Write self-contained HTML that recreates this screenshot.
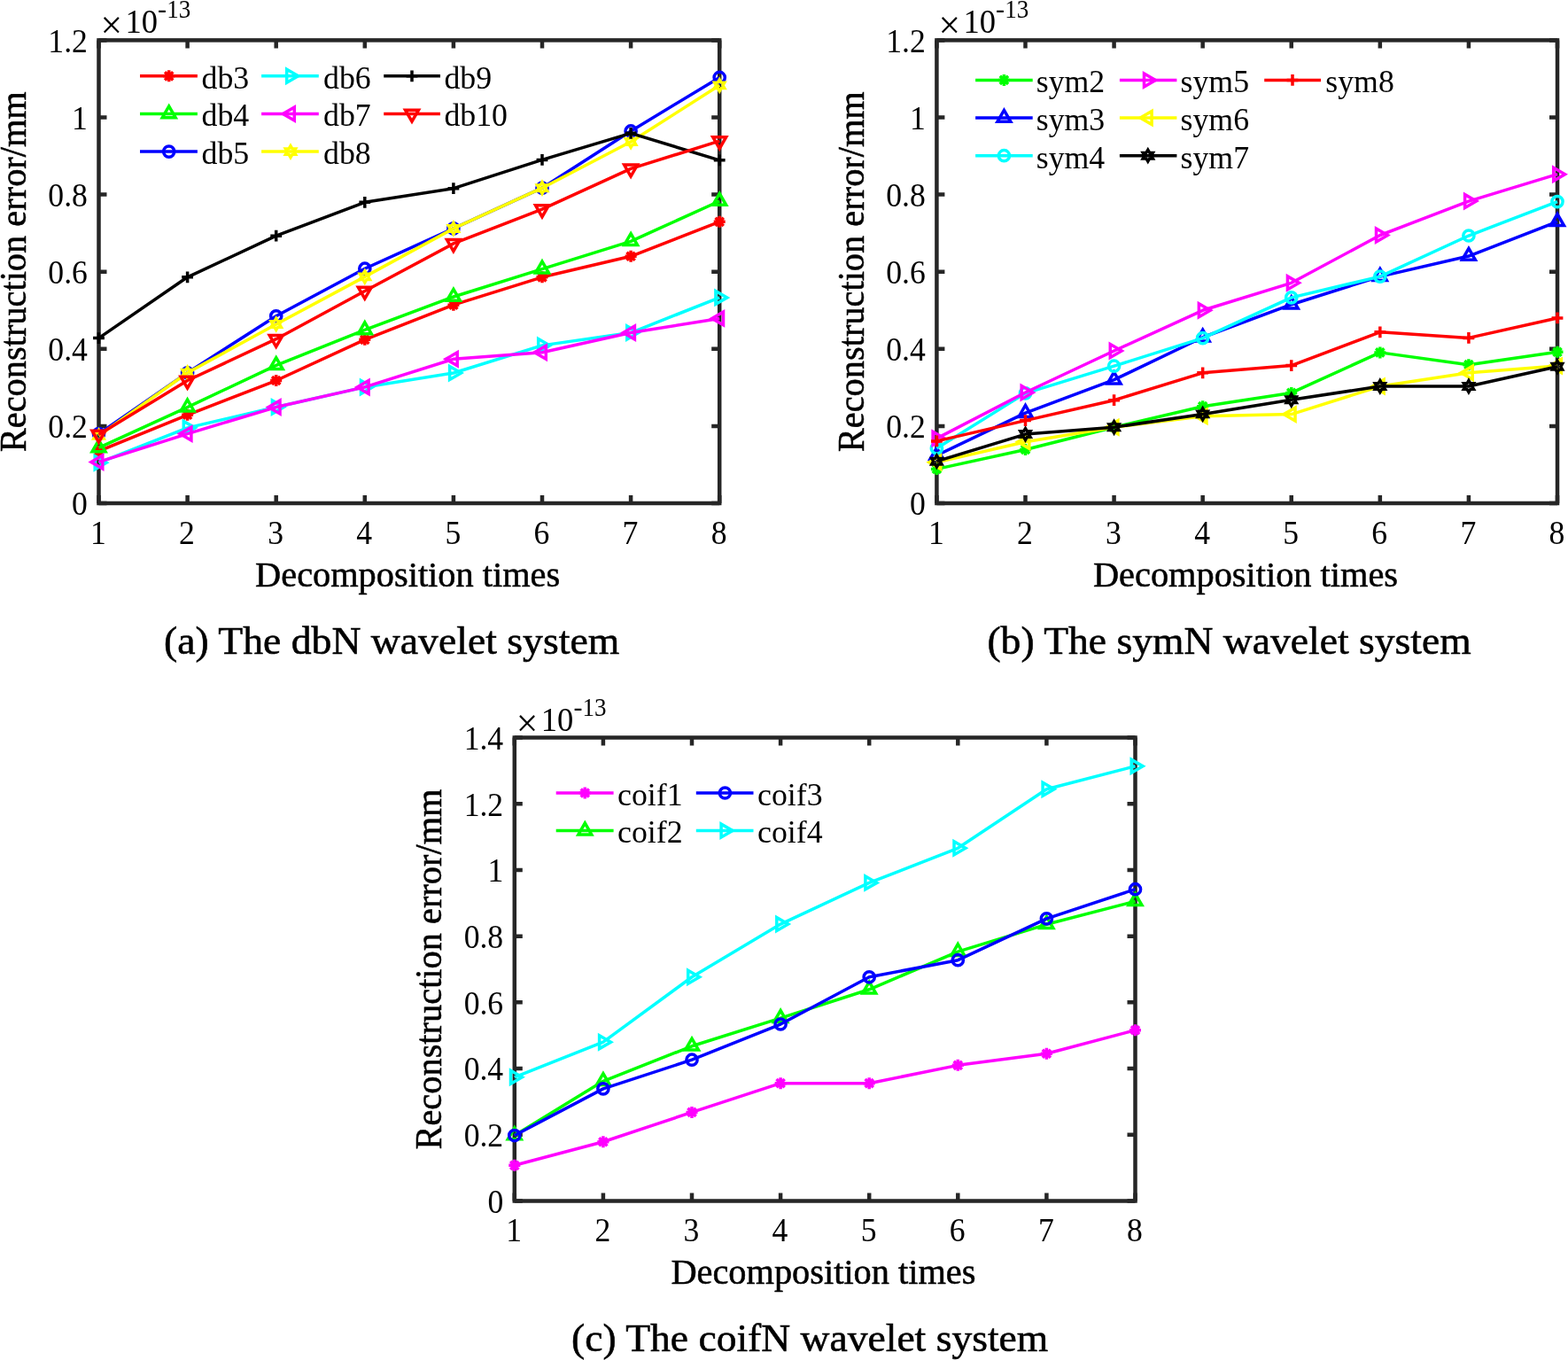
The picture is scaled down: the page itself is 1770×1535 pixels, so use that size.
<!DOCTYPE html>
<html><head><meta charset="utf-8"><title>Reconstruction error vs decomposition times</title>
<style>html,body{margin:0;padding:0;background:#fff;}body{width:1770px;height:1535px;overflow:hidden;}svg{display:block;}text{font-family:"Liberation Serif", "Times New Roman", serif;fill:#000;}</style>
</head><body>
<svg width="1770" height="1535" viewBox="0 0 1770 1535">
<rect width="1770" height="1535" fill="#fff"/>
<path d="M111.50 568.00V559.00M111.50 45.40V54.40M211.60 568.00V559.00M211.60 45.40V54.40M311.70 568.00V559.00M311.70 45.40V54.40M411.80 568.00V559.00M411.80 45.40V54.40M511.90 568.00V559.00M511.90 45.40V54.40M612.00 568.00V559.00M612.00 45.40V54.40M712.10 568.00V559.00M712.10 45.40V54.40M812.20 568.00V559.00M812.20 45.40V54.40M111.50 568.00H120.50M812.20 568.00H803.20M111.50 480.90H120.50M812.20 480.90H803.20M111.50 393.80H120.50M812.20 393.80H803.20M111.50 306.70H120.50M812.20 306.70H803.20M111.50 219.60H120.50M812.20 219.60H803.20M111.50 132.50H120.50M812.20 132.50H803.20M111.50 45.40H120.50M812.20 45.40H803.20" stroke="#262626" stroke-width="4.5" fill="none"/>
<rect x="111.50" y="45.40" width="700.70" height="522.60" fill="none" stroke="#262626" stroke-width="4.5"/>
<text x="110.90" y="613.90" font-size="37.5" text-anchor="middle" textLength="17.81" lengthAdjust="spacingAndGlyphs">1</text>
<text x="211.00" y="613.90" font-size="37.5" text-anchor="middle" textLength="17.81" lengthAdjust="spacingAndGlyphs">2</text>
<text x="311.10" y="613.90" font-size="37.5" text-anchor="middle" textLength="17.81" lengthAdjust="spacingAndGlyphs">3</text>
<text x="411.20" y="613.90" font-size="37.5" text-anchor="middle" textLength="17.81" lengthAdjust="spacingAndGlyphs">4</text>
<text x="511.30" y="613.90" font-size="37.5" text-anchor="middle" textLength="17.81" lengthAdjust="spacingAndGlyphs">5</text>
<text x="611.40" y="613.90" font-size="37.5" text-anchor="middle" textLength="17.81" lengthAdjust="spacingAndGlyphs">6</text>
<text x="711.50" y="613.90" font-size="37.5" text-anchor="middle" textLength="17.81" lengthAdjust="spacingAndGlyphs">7</text>
<text x="811.60" y="613.90" font-size="37.5" text-anchor="middle" textLength="17.81" lengthAdjust="spacingAndGlyphs">8</text>
<text x="98.90" y="581.40" font-size="37.5" text-anchor="end" textLength="17.81" lengthAdjust="spacingAndGlyphs">0</text>
<text x="98.90" y="494.30" font-size="37.5" text-anchor="end" textLength="44.53" lengthAdjust="spacingAndGlyphs">0.2</text>
<text x="98.90" y="407.20" font-size="37.5" text-anchor="end" textLength="44.53" lengthAdjust="spacingAndGlyphs">0.4</text>
<text x="98.90" y="320.10" font-size="37.5" text-anchor="end" textLength="44.53" lengthAdjust="spacingAndGlyphs">0.6</text>
<text x="98.90" y="233.00" font-size="37.5" text-anchor="end" textLength="44.53" lengthAdjust="spacingAndGlyphs">0.8</text>
<text x="98.90" y="145.90" font-size="37.5" text-anchor="end" textLength="17.81" lengthAdjust="spacingAndGlyphs">1</text>
<text x="98.90" y="58.80" font-size="37.5" text-anchor="end" textLength="44.53" lengthAdjust="spacingAndGlyphs">1.2</text>
<text x="113.49" y="43.14" font-size="43.5" text-anchor="start">×</text>
<text x="141.51" y="37.10" font-size="37.5" text-anchor="start" textLength="36.56" lengthAdjust="spacingAndGlyphs">10</text>
<text x="178.10" y="20.30" font-size="30" text-anchor="start">-</text>
<text x="188.27" y="19.80" font-size="30" text-anchor="start" textLength="27.00" lengthAdjust="spacingAndGlyphs">13</text>
<text x="460.15" y="661.80" font-size="41" text-anchor="middle" textLength="344.09" lengthAdjust="spacingAndGlyphs" stroke="#000" stroke-width="0.55">Decomposition times</text>
<g transform="translate(28.80,306.70) rotate(-90)"><text x="0.00" y="0.00" font-size="41.3" text-anchor="middle" textLength="406.94" lengthAdjust="spacingAndGlyphs" stroke="#000" stroke-width="0.55">Reconstruction error/mm</text></g>
<polyline points="111.50,509.21 211.60,468.27 311.70,429.51 411.80,383.35 511.90,344.15 612.00,312.80 712.10,289.28 812.20,250.30" fill="none" stroke="#ff0000" stroke-width="3.5" stroke-linejoin="round"/>
<path d="M105.00 509.21H118.00M111.50 502.71V515.71M106.90 504.61L116.10 513.80M106.90 513.80L116.10 504.61" stroke="#ff0000" stroke-width="3.5" fill="none"/>
<path d="M205.10 468.27H218.10M211.60 461.77V474.77M207.00 463.67L216.20 472.87M207.00 472.87L216.20 463.67" stroke="#ff0000" stroke-width="3.5" fill="none"/>
<path d="M305.20 429.51H318.20M311.70 423.01V436.01M307.10 424.91L316.30 434.11M307.10 434.11L316.30 424.91" stroke="#ff0000" stroke-width="3.5" fill="none"/>
<path d="M405.30 383.35H418.30M411.80 376.85V389.85M407.20 378.75L416.40 387.94M407.20 387.94L416.40 378.75" stroke="#ff0000" stroke-width="3.5" fill="none"/>
<path d="M505.40 344.15H518.40M511.90 337.65V350.65M507.30 339.56L516.50 348.75M507.30 348.75L516.50 339.56" stroke="#ff0000" stroke-width="3.5" fill="none"/>
<path d="M605.50 312.80H618.50M612.00 306.30V319.30M607.40 308.20L616.60 317.39M607.40 317.39L616.60 308.20" stroke="#ff0000" stroke-width="3.5" fill="none"/>
<path d="M705.60 289.28H718.60M712.10 282.78V295.78M707.50 284.68L716.70 293.88M707.50 293.88L716.70 284.68" stroke="#ff0000" stroke-width="3.5" fill="none"/>
<path d="M805.70 250.30H818.70M812.20 243.80V256.80M807.60 245.71L816.80 254.90M807.60 254.90L816.80 245.71" stroke="#ff0000" stroke-width="3.5" fill="none"/>
<polyline points="111.50,505.42 211.60,459.69 311.70,412.31 411.80,372.46 511.90,335.01 612.00,303.65 712.10,272.30 812.20,227.00" fill="none" stroke="#00ff00" stroke-width="3.5" stroke-linejoin="round"/>
<polygon points="111.50,496.82 118.95,509.72 104.05,509.72" fill="none" stroke="#00ff00" stroke-width="3.5" stroke-linejoin="miter"/>
<polygon points="211.60,451.09 219.05,463.99 204.15,463.99" fill="none" stroke="#00ff00" stroke-width="3.5" stroke-linejoin="miter"/>
<polygon points="311.70,403.71 319.15,416.61 304.25,416.61" fill="none" stroke="#00ff00" stroke-width="3.5" stroke-linejoin="miter"/>
<polygon points="411.80,363.86 419.25,376.76 404.35,376.76" fill="none" stroke="#00ff00" stroke-width="3.5" stroke-linejoin="miter"/>
<polygon points="511.90,326.41 519.35,339.31 504.45,339.31" fill="none" stroke="#00ff00" stroke-width="3.5" stroke-linejoin="miter"/>
<polygon points="612.00,295.05 619.45,307.95 604.55,307.95" fill="none" stroke="#00ff00" stroke-width="3.5" stroke-linejoin="miter"/>
<polygon points="712.10,263.70 719.55,276.60 704.65,276.60" fill="none" stroke="#00ff00" stroke-width="3.5" stroke-linejoin="miter"/>
<polygon points="812.20,218.40 819.65,231.30 804.75,231.30" fill="none" stroke="#00ff00" stroke-width="3.5" stroke-linejoin="miter"/>
<polyline points="111.50,489.61 211.60,420.80 311.70,356.78 411.80,303.22 511.90,257.92 612.00,212.20 712.10,147.96 812.20,87.43" fill="none" stroke="#0000ff" stroke-width="3.5" stroke-linejoin="round"/>
<circle cx="111.50" cy="489.61" r="6.1" fill="none" stroke="#0000ff" stroke-width="3.5"/>
<circle cx="211.60" cy="420.80" r="6.1" fill="none" stroke="#0000ff" stroke-width="3.5"/>
<circle cx="311.70" cy="356.78" r="6.1" fill="none" stroke="#0000ff" stroke-width="3.5"/>
<circle cx="411.80" cy="303.22" r="6.1" fill="none" stroke="#0000ff" stroke-width="3.5"/>
<circle cx="511.90" cy="257.92" r="6.1" fill="none" stroke="#0000ff" stroke-width="3.5"/>
<circle cx="612.00" cy="212.20" r="6.1" fill="none" stroke="#0000ff" stroke-width="3.5"/>
<circle cx="712.10" cy="147.96" r="6.1" fill="none" stroke="#0000ff" stroke-width="3.5"/>
<circle cx="812.20" cy="87.43" r="6.1" fill="none" stroke="#0000ff" stroke-width="3.5"/>
<polyline points="111.50,522.27 211.60,482.86 311.70,459.56 411.80,436.91 511.90,421.02 612.00,389.88 712.10,375.51 812.20,335.88" fill="none" stroke="#00ffff" stroke-width="3.5" stroke-linejoin="round"/>
<polygon points="120.10,522.27 107.20,529.72 107.20,514.82" fill="none" stroke="#00ffff" stroke-width="3.5" stroke-linejoin="miter"/>
<polygon points="220.20,482.86 207.30,490.31 207.30,475.41" fill="none" stroke="#00ffff" stroke-width="3.5" stroke-linejoin="miter"/>
<polygon points="320.30,459.56 307.40,467.01 307.40,452.11" fill="none" stroke="#00ffff" stroke-width="3.5" stroke-linejoin="miter"/>
<polygon points="420.40,436.91 407.50,444.36 407.50,429.47" fill="none" stroke="#00ffff" stroke-width="3.5" stroke-linejoin="miter"/>
<polygon points="520.50,421.02 507.60,428.47 507.60,413.57" fill="none" stroke="#00ffff" stroke-width="3.5" stroke-linejoin="miter"/>
<polygon points="620.60,389.88 607.70,397.33 607.70,382.43" fill="none" stroke="#00ffff" stroke-width="3.5" stroke-linejoin="miter"/>
<polygon points="720.70,375.51 707.80,382.96 707.80,368.06" fill="none" stroke="#00ffff" stroke-width="3.5" stroke-linejoin="miter"/>
<polygon points="820.80,335.88 807.90,343.33 807.90,328.43" fill="none" stroke="#00ffff" stroke-width="3.5" stroke-linejoin="miter"/>
<polyline points="111.50,521.40 211.60,489.61 311.70,459.56 411.80,436.91 511.90,405.30 612.00,397.72 712.10,375.51 812.20,359.40" fill="none" stroke="#ff00ff" stroke-width="3.5" stroke-linejoin="round"/>
<polygon points="102.90,521.40 115.80,513.95 115.80,528.85" fill="none" stroke="#ff00ff" stroke-width="3.5" stroke-linejoin="miter"/>
<polygon points="203.00,489.61 215.90,482.16 215.90,497.06" fill="none" stroke="#ff00ff" stroke-width="3.5" stroke-linejoin="miter"/>
<polygon points="303.10,459.56 316.00,452.11 316.00,467.01" fill="none" stroke="#ff00ff" stroke-width="3.5" stroke-linejoin="miter"/>
<polygon points="403.20,436.91 416.10,429.47 416.10,444.36" fill="none" stroke="#ff00ff" stroke-width="3.5" stroke-linejoin="miter"/>
<polygon points="503.30,405.30 516.20,397.85 516.20,412.75" fill="none" stroke="#ff00ff" stroke-width="3.5" stroke-linejoin="miter"/>
<polygon points="603.40,397.72 616.30,390.27 616.30,405.17" fill="none" stroke="#ff00ff" stroke-width="3.5" stroke-linejoin="miter"/>
<polygon points="703.50,375.51 716.40,368.06 716.40,382.96" fill="none" stroke="#ff00ff" stroke-width="3.5" stroke-linejoin="miter"/>
<polygon points="803.60,359.40 816.50,351.95 816.50,366.84" fill="none" stroke="#ff00ff" stroke-width="3.5" stroke-linejoin="miter"/>
<polyline points="111.50,491.79 211.60,420.80 311.70,365.93 411.80,312.36 511.90,257.92 612.00,212.20 712.10,159.94 812.20,96.35" fill="none" stroke="#ffff00" stroke-width="3.5" stroke-linejoin="round"/>
<polygon points="111.50,485.19 113.41,488.49 117.22,488.49 115.31,491.79 117.22,495.09 113.41,495.09 111.50,498.39 109.59,495.09 105.78,495.09 107.69,491.79 105.78,488.49 109.59,488.49" fill="none" stroke="#ffff00" stroke-width="3.32" stroke-linejoin="miter" stroke-miterlimit="10"/>
<polygon points="211.60,414.20 213.51,417.50 217.32,417.50 215.41,420.80 217.32,424.10 213.51,424.10 211.60,427.40 209.69,424.10 205.88,424.10 207.79,420.80 205.88,417.50 209.69,417.50" fill="none" stroke="#ffff00" stroke-width="3.32" stroke-linejoin="miter" stroke-miterlimit="10"/>
<polygon points="311.70,359.33 313.61,362.63 317.42,362.63 315.51,365.93 317.42,369.23 313.61,369.23 311.70,372.53 309.79,369.23 305.98,369.23 307.89,365.93 305.98,362.63 309.79,362.63" fill="none" stroke="#ffff00" stroke-width="3.32" stroke-linejoin="miter" stroke-miterlimit="10"/>
<polygon points="411.80,305.76 413.71,309.06 417.52,309.06 415.61,312.36 417.52,315.66 413.71,315.66 411.80,318.96 409.89,315.66 406.08,315.66 407.99,312.36 406.08,309.06 409.89,309.06" fill="none" stroke="#ffff00" stroke-width="3.32" stroke-linejoin="miter" stroke-miterlimit="10"/>
<polygon points="511.90,251.32 513.81,254.62 517.62,254.62 515.71,257.92 517.62,261.22 513.81,261.22 511.90,264.52 509.99,261.22 506.18,261.22 508.09,257.92 506.18,254.62 509.99,254.62" fill="none" stroke="#ffff00" stroke-width="3.32" stroke-linejoin="miter" stroke-miterlimit="10"/>
<polygon points="612.00,205.60 613.91,208.90 617.72,208.90 615.81,212.20 617.72,215.50 613.91,215.50 612.00,218.80 610.09,215.50 606.28,215.50 608.19,212.20 606.28,208.90 610.09,208.90" fill="none" stroke="#ffff00" stroke-width="3.32" stroke-linejoin="miter" stroke-miterlimit="10"/>
<polygon points="712.10,153.34 714.01,156.64 717.82,156.64 715.91,159.94 717.82,163.24 714.01,163.24 712.10,166.54 710.19,163.24 706.38,163.24 708.29,159.94 706.38,156.64 710.19,156.64" fill="none" stroke="#ffff00" stroke-width="3.32" stroke-linejoin="miter" stroke-miterlimit="10"/>
<polygon points="812.20,89.75 814.11,93.05 817.92,93.05 816.01,96.35 817.92,99.65 814.11,99.65 812.20,102.95 810.29,99.65 806.48,99.65 808.39,96.35 806.48,93.05 810.29,93.05" fill="none" stroke="#ffff00" stroke-width="3.32" stroke-linejoin="miter" stroke-miterlimit="10"/>
<polyline points="111.50,381.61 211.60,312.80 311.70,266.20 411.80,228.31 511.90,212.63 612.00,180.40 712.10,150.36 812.20,180.84" fill="none" stroke="#000000" stroke-width="3.5" stroke-linejoin="round"/>
<path d="M105.10 381.61H117.90M111.50 375.21V388.01" stroke="#000000" stroke-width="3.5" fill="none"/>
<path d="M205.20 312.80H218.00M211.60 306.40V319.20" stroke="#000000" stroke-width="3.5" fill="none"/>
<path d="M305.30 266.20H318.10M311.70 259.80V272.60" stroke="#000000" stroke-width="3.5" fill="none"/>
<path d="M405.40 228.31H418.20M411.80 221.91V234.71" stroke="#000000" stroke-width="3.5" fill="none"/>
<path d="M505.50 212.63H518.30M511.90 206.23V219.03" stroke="#000000" stroke-width="3.5" fill="none"/>
<path d="M605.60 180.40H618.40M612.00 174.00V186.80" stroke="#000000" stroke-width="3.5" fill="none"/>
<path d="M705.70 150.36H718.50M712.10 143.96V156.76" stroke="#000000" stroke-width="3.5" fill="none"/>
<path d="M805.80 180.84H818.60M812.20 174.44V187.24" stroke="#000000" stroke-width="3.5" fill="none"/>
<polyline points="111.50,490.48 211.60,429.51 311.70,382.69 411.80,328.47 511.90,274.91 612.00,236.15 712.10,190.42 812.20,159.07" fill="none" stroke="#ff0000" stroke-width="3.5" stroke-linejoin="round"/>
<polygon points="111.50,499.08 104.05,486.18 118.95,486.18" fill="none" stroke="#ff0000" stroke-width="3.5" stroke-linejoin="miter"/>
<polygon points="211.60,438.11 204.15,425.21 219.05,425.21" fill="none" stroke="#ff0000" stroke-width="3.5" stroke-linejoin="miter"/>
<polygon points="311.70,391.29 304.25,378.39 319.15,378.39" fill="none" stroke="#ff0000" stroke-width="3.5" stroke-linejoin="miter"/>
<polygon points="411.80,337.07 404.35,324.17 419.25,324.17" fill="none" stroke="#ff0000" stroke-width="3.5" stroke-linejoin="miter"/>
<polygon points="511.90,283.51 504.45,270.61 519.35,270.61" fill="none" stroke="#ff0000" stroke-width="3.5" stroke-linejoin="miter"/>
<polygon points="612.00,244.75 604.55,231.85 619.45,231.85" fill="none" stroke="#ff0000" stroke-width="3.5" stroke-linejoin="miter"/>
<polygon points="712.10,199.02 704.65,186.12 719.55,186.12" fill="none" stroke="#ff0000" stroke-width="3.5" stroke-linejoin="miter"/>
<polygon points="812.20,167.67 804.75,154.77 819.65,154.77" fill="none" stroke="#ff0000" stroke-width="3.5" stroke-linejoin="miter"/>
<path d="M158.00 85.80H222.90" stroke="#ff0000" stroke-width="3.5"/>
<path d="M184.20 85.80H197.20M190.70 79.30V92.30M186.10 81.20L195.30 90.40M186.10 90.40L195.30 81.20" stroke="#ff0000" stroke-width="3.5" fill="none"/>
<text x="227.52" y="99.60" font-size="36.5" text-anchor="start" textLength="53.66" lengthAdjust="spacingAndGlyphs">db3</text>
<path d="M158.00 128.50H222.90" stroke="#00ff00" stroke-width="3.5"/>
<polygon points="190.70,119.90 198.15,132.80 183.25,132.80" fill="none" stroke="#00ff00" stroke-width="3.5" stroke-linejoin="miter"/>
<text x="227.52" y="142.30" font-size="36.5" text-anchor="start" textLength="53.66" lengthAdjust="spacingAndGlyphs">db4</text>
<path d="M158.00 171.10H222.90" stroke="#0000ff" stroke-width="3.5"/>
<circle cx="190.70" cy="171.10" r="6.1" fill="none" stroke="#0000ff" stroke-width="3.5"/>
<text x="227.52" y="184.90" font-size="36.5" text-anchor="start" textLength="53.66" lengthAdjust="spacingAndGlyphs">db5</text>
<path d="M295.10 85.80H359.80" stroke="#00ffff" stroke-width="3.5"/>
<polygon points="336.60,85.80 323.70,93.25 323.70,78.35" fill="none" stroke="#00ffff" stroke-width="3.5" stroke-linejoin="miter"/>
<text x="365.02" y="99.60" font-size="36.5" text-anchor="start" textLength="53.66" lengthAdjust="spacingAndGlyphs">db6</text>
<path d="M295.10 128.50H359.80" stroke="#ff00ff" stroke-width="3.5"/>
<polygon points="319.40,128.50 332.30,121.05 332.30,135.95" fill="none" stroke="#ff00ff" stroke-width="3.5" stroke-linejoin="miter"/>
<text x="365.02" y="142.30" font-size="36.5" text-anchor="start" textLength="53.66" lengthAdjust="spacingAndGlyphs">db7</text>
<path d="M295.10 171.10H359.80" stroke="#ffff00" stroke-width="3.5"/>
<polygon points="328.00,164.50 329.91,167.80 333.72,167.80 331.81,171.10 333.72,174.40 329.91,174.40 328.00,177.70 326.09,174.40 322.28,174.40 324.19,171.10 322.28,167.80 326.09,167.80" fill="none" stroke="#ffff00" stroke-width="3.32" stroke-linejoin="miter" stroke-miterlimit="10"/>
<text x="365.02" y="184.90" font-size="36.5" text-anchor="start" textLength="53.66" lengthAdjust="spacingAndGlyphs">db8</text>
<path d="M433.20 85.80H497.00" stroke="#000000" stroke-width="3.5"/>
<path d="M458.60 85.80H471.40M465.00 79.40V92.20" stroke="#000000" stroke-width="3.5" fill="none"/>
<text x="501.42" y="99.60" font-size="36.5" text-anchor="start" textLength="53.66" lengthAdjust="spacingAndGlyphs">db9</text>
<path d="M433.20 128.50H497.00" stroke="#ff0000" stroke-width="3.5"/>
<polygon points="465.00,137.10 457.55,124.20 472.45,124.20" fill="none" stroke="#ff0000" stroke-width="3.5" stroke-linejoin="miter"/>
<text x="501.42" y="142.30" font-size="36.5" text-anchor="start" textLength="71.54" lengthAdjust="spacingAndGlyphs">db10</text>
<text x="185.02" y="737.90" font-size="44" text-anchor="start" textLength="514.18" lengthAdjust="spacingAndGlyphs" stroke="#000" stroke-width="0.55">(a) The dbN wavelet system</text>
<path d="M1057.40 568.00V559.00M1057.40 45.40V54.40M1157.49 568.00V559.00M1157.49 45.40V54.40M1257.57 568.00V559.00M1257.57 45.40V54.40M1357.66 568.00V559.00M1357.66 45.40V54.40M1457.74 568.00V559.00M1457.74 45.40V54.40M1557.83 568.00V559.00M1557.83 45.40V54.40M1657.91 568.00V559.00M1657.91 45.40V54.40M1758.00 568.00V559.00M1758.00 45.40V54.40M1057.40 568.00H1066.40M1758.00 568.00H1749.00M1057.40 480.90H1066.40M1758.00 480.90H1749.00M1057.40 393.80H1066.40M1758.00 393.80H1749.00M1057.40 306.70H1066.40M1758.00 306.70H1749.00M1057.40 219.60H1066.40M1758.00 219.60H1749.00M1057.40 132.50H1066.40M1758.00 132.50H1749.00M1057.40 45.40H1066.40M1758.00 45.40H1749.00" stroke="#262626" stroke-width="4.5" fill="none"/>
<rect x="1057.40" y="45.40" width="700.60" height="522.60" fill="none" stroke="#262626" stroke-width="4.5"/>
<text x="1056.80" y="613.90" font-size="37.5" text-anchor="middle" textLength="17.81" lengthAdjust="spacingAndGlyphs">1</text>
<text x="1156.89" y="613.90" font-size="37.5" text-anchor="middle" textLength="17.81" lengthAdjust="spacingAndGlyphs">2</text>
<text x="1256.97" y="613.90" font-size="37.5" text-anchor="middle" textLength="17.81" lengthAdjust="spacingAndGlyphs">3</text>
<text x="1357.06" y="613.90" font-size="37.5" text-anchor="middle" textLength="17.81" lengthAdjust="spacingAndGlyphs">4</text>
<text x="1457.14" y="613.90" font-size="37.5" text-anchor="middle" textLength="17.81" lengthAdjust="spacingAndGlyphs">5</text>
<text x="1557.23" y="613.90" font-size="37.5" text-anchor="middle" textLength="17.81" lengthAdjust="spacingAndGlyphs">6</text>
<text x="1657.31" y="613.90" font-size="37.5" text-anchor="middle" textLength="17.81" lengthAdjust="spacingAndGlyphs">7</text>
<text x="1757.40" y="613.90" font-size="37.5" text-anchor="middle" textLength="17.81" lengthAdjust="spacingAndGlyphs">8</text>
<text x="1044.80" y="581.40" font-size="37.5" text-anchor="end" textLength="17.81" lengthAdjust="spacingAndGlyphs">0</text>
<text x="1044.80" y="494.30" font-size="37.5" text-anchor="end" textLength="44.53" lengthAdjust="spacingAndGlyphs">0.2</text>
<text x="1044.80" y="407.20" font-size="37.5" text-anchor="end" textLength="44.53" lengthAdjust="spacingAndGlyphs">0.4</text>
<text x="1044.80" y="320.10" font-size="37.5" text-anchor="end" textLength="44.53" lengthAdjust="spacingAndGlyphs">0.6</text>
<text x="1044.80" y="233.00" font-size="37.5" text-anchor="end" textLength="44.53" lengthAdjust="spacingAndGlyphs">0.8</text>
<text x="1044.80" y="145.90" font-size="37.5" text-anchor="end" textLength="17.81" lengthAdjust="spacingAndGlyphs">1</text>
<text x="1044.80" y="58.80" font-size="37.5" text-anchor="end" textLength="44.53" lengthAdjust="spacingAndGlyphs">1.2</text>
<text x="1059.39" y="43.14" font-size="43.5" text-anchor="start">×</text>
<text x="1087.41" y="37.10" font-size="37.5" text-anchor="start" textLength="36.56" lengthAdjust="spacingAndGlyphs">10</text>
<text x="1124.00" y="20.30" font-size="30" text-anchor="start">-</text>
<text x="1134.17" y="19.80" font-size="30" text-anchor="start" textLength="27.00" lengthAdjust="spacingAndGlyphs">13</text>
<text x="1406.00" y="661.80" font-size="41" text-anchor="middle" textLength="344.09" lengthAdjust="spacingAndGlyphs" stroke="#000" stroke-width="0.55">Decomposition times</text>
<g transform="translate(974.70,306.70) rotate(-90)"><text x="0.00" y="0.00" font-size="41.3" text-anchor="middle" textLength="406.94" lengthAdjust="spacingAndGlyphs" stroke="#000" stroke-width="0.55">Reconstruction error/mm</text></g>
<polyline points="1057.40,529.41 1157.49,507.47 1257.57,482.21 1357.66,458.69 1457.74,443.45 1557.83,397.89 1657.91,411.66 1758.00,397.28" fill="none" stroke="#00ff00" stroke-width="3.5" stroke-linejoin="round"/>
<path d="M1050.90 529.41H1063.90M1057.40 522.91V535.91M1052.80 524.82L1062.00 534.01M1052.80 534.01L1062.00 524.82" stroke="#00ff00" stroke-width="3.5" fill="none"/>
<path d="M1150.99 507.47H1163.99M1157.49 500.97V513.97M1152.89 502.87L1162.08 512.06M1152.89 512.06L1162.08 502.87" stroke="#00ff00" stroke-width="3.5" fill="none"/>
<path d="M1251.07 482.21H1264.07M1257.57 475.71V488.71M1252.98 477.61L1262.17 486.80M1252.98 486.80L1262.17 477.61" stroke="#00ff00" stroke-width="3.5" fill="none"/>
<path d="M1351.16 458.69H1364.16M1357.66 452.19V465.19M1353.06 454.09L1362.25 463.29M1353.06 463.29L1362.25 454.09" stroke="#00ff00" stroke-width="3.5" fill="none"/>
<path d="M1451.24 443.45H1464.24M1457.74 436.95V449.95M1453.15 438.85L1462.34 448.04M1453.15 448.04L1462.34 438.85" stroke="#00ff00" stroke-width="3.5" fill="none"/>
<path d="M1551.33 397.89H1564.33M1557.83 391.39V404.39M1553.23 393.30L1562.42 402.49M1553.23 402.49L1562.42 393.30" stroke="#00ff00" stroke-width="3.5" fill="none"/>
<path d="M1651.41 411.66H1664.41M1657.91 405.16V418.16M1653.32 407.06L1662.51 416.25M1653.32 416.25L1662.51 407.06" stroke="#00ff00" stroke-width="3.5" fill="none"/>
<path d="M1751.50 397.28H1764.50M1758.00 390.78V403.78M1753.40 392.69L1762.60 401.88M1753.40 401.88L1762.60 392.69" stroke="#00ff00" stroke-width="3.5" fill="none"/>
<polyline points="1057.40,514.00 1157.49,466.09 1257.57,428.64 1357.66,380.74 1457.74,343.72 1557.83,312.10 1657.91,289.02 1758.00,250.22" fill="none" stroke="#0000ff" stroke-width="3.5" stroke-linejoin="round"/>
<polygon points="1057.40,505.40 1064.85,518.30 1049.95,518.30" fill="none" stroke="#0000ff" stroke-width="3.5" stroke-linejoin="miter"/>
<polygon points="1157.49,457.49 1164.93,470.39 1150.04,470.39" fill="none" stroke="#0000ff" stroke-width="3.5" stroke-linejoin="miter"/>
<polygon points="1257.57,420.04 1265.02,432.94 1250.12,432.94" fill="none" stroke="#0000ff" stroke-width="3.5" stroke-linejoin="miter"/>
<polygon points="1357.66,372.13 1365.10,385.04 1350.21,385.04" fill="none" stroke="#0000ff" stroke-width="3.5" stroke-linejoin="miter"/>
<polygon points="1457.74,335.12 1465.19,348.02 1450.30,348.02" fill="none" stroke="#0000ff" stroke-width="3.5" stroke-linejoin="miter"/>
<polygon points="1557.83,303.50 1565.28,316.40 1550.38,316.40" fill="none" stroke="#0000ff" stroke-width="3.5" stroke-linejoin="miter"/>
<polygon points="1657.91,280.42 1665.36,293.32 1650.47,293.32" fill="none" stroke="#0000ff" stroke-width="3.5" stroke-linejoin="miter"/>
<polygon points="1758.00,241.62 1765.45,254.52 1750.55,254.52" fill="none" stroke="#0000ff" stroke-width="3.5" stroke-linejoin="miter"/>
<polyline points="1057.40,505.90 1157.49,443.88 1257.57,413.18 1357.66,381.61 1457.74,335.88 1557.83,312.10 1657.91,266.02 1758.00,227.61" fill="none" stroke="#00ffff" stroke-width="3.5" stroke-linejoin="round"/>
<circle cx="1057.40" cy="505.90" r="6.1" fill="none" stroke="#00ffff" stroke-width="3.5"/>
<circle cx="1157.49" cy="443.88" r="6.1" fill="none" stroke="#00ffff" stroke-width="3.5"/>
<circle cx="1257.57" cy="413.18" r="6.1" fill="none" stroke="#00ffff" stroke-width="3.5"/>
<circle cx="1357.66" cy="381.61" r="6.1" fill="none" stroke="#00ffff" stroke-width="3.5"/>
<circle cx="1457.74" cy="335.88" r="6.1" fill="none" stroke="#00ffff" stroke-width="3.5"/>
<circle cx="1557.83" cy="312.10" r="6.1" fill="none" stroke="#00ffff" stroke-width="3.5"/>
<circle cx="1657.91" cy="266.02" r="6.1" fill="none" stroke="#00ffff" stroke-width="3.5"/>
<circle cx="1758.00" cy="227.61" r="6.1" fill="none" stroke="#00ffff" stroke-width="3.5"/>
<polyline points="1057.40,494.84 1157.49,443.01 1257.57,395.98 1357.66,350.29 1457.74,319.33 1557.83,265.50 1657.91,227.09 1758.00,196.69" fill="none" stroke="#ff00ff" stroke-width="3.5" stroke-linejoin="round"/>
<polygon points="1066.00,494.84 1053.10,502.28 1053.10,487.39" fill="none" stroke="#ff00ff" stroke-width="3.5" stroke-linejoin="miter"/>
<polygon points="1166.09,443.01 1153.19,450.46 1153.19,435.56" fill="none" stroke="#ff00ff" stroke-width="3.5" stroke-linejoin="miter"/>
<polygon points="1266.17,395.98 1253.27,403.43 1253.27,388.53" fill="none" stroke="#ff00ff" stroke-width="3.5" stroke-linejoin="miter"/>
<polygon points="1366.26,350.29 1353.36,357.74 1353.36,342.85" fill="none" stroke="#ff00ff" stroke-width="3.5" stroke-linejoin="miter"/>
<polygon points="1466.34,319.33 1453.44,326.78 1453.44,311.88" fill="none" stroke="#ff00ff" stroke-width="3.5" stroke-linejoin="miter"/>
<polygon points="1566.43,265.50 1553.53,272.95 1553.53,258.05" fill="none" stroke="#ff00ff" stroke-width="3.5" stroke-linejoin="miter"/>
<polygon points="1666.51,227.09 1653.61,234.54 1653.61,219.64" fill="none" stroke="#ff00ff" stroke-width="3.5" stroke-linejoin="miter"/>
<polygon points="1766.60,196.69 1753.70,204.14 1753.70,189.24" fill="none" stroke="#ff00ff" stroke-width="3.5" stroke-linejoin="miter"/>
<polyline points="1057.40,521.84 1157.49,498.76 1257.57,482.21 1357.66,469.79 1457.74,467.62 1557.83,436.04 1657.91,420.80 1758.00,412.96" fill="none" stroke="#ffff00" stroke-width="3.5" stroke-linejoin="round"/>
<polygon points="1048.80,521.84 1061.70,514.39 1061.70,529.28" fill="none" stroke="#ffff00" stroke-width="3.5" stroke-linejoin="miter"/>
<polygon points="1148.89,498.76 1161.79,491.31 1161.79,506.20" fill="none" stroke="#ffff00" stroke-width="3.5" stroke-linejoin="miter"/>
<polygon points="1248.97,482.21 1261.87,474.76 1261.87,489.65" fill="none" stroke="#ffff00" stroke-width="3.5" stroke-linejoin="miter"/>
<polygon points="1349.06,469.79 1361.96,462.35 1361.96,477.24" fill="none" stroke="#ffff00" stroke-width="3.5" stroke-linejoin="miter"/>
<polygon points="1449.14,467.62 1462.04,460.17 1462.04,475.07" fill="none" stroke="#ffff00" stroke-width="3.5" stroke-linejoin="miter"/>
<polygon points="1549.23,436.04 1562.13,428.60 1562.13,443.49" fill="none" stroke="#ffff00" stroke-width="3.5" stroke-linejoin="miter"/>
<polygon points="1649.31,420.80 1662.21,413.35 1662.21,428.25" fill="none" stroke="#ffff00" stroke-width="3.5" stroke-linejoin="miter"/>
<polygon points="1749.40,412.96 1762.30,405.51 1762.30,420.41" fill="none" stroke="#ffff00" stroke-width="3.5" stroke-linejoin="miter"/>
<polyline points="1057.40,520.70 1157.49,490.05 1257.57,482.21 1357.66,467.40 1457.74,451.29 1557.83,436.04 1657.91,436.04 1758.00,413.83" fill="none" stroke="#000000" stroke-width="3.5" stroke-linejoin="round"/>
<polygon points="1057.40,514.10 1059.31,517.40 1063.12,517.40 1061.21,520.70 1063.12,524.00 1059.31,524.00 1057.40,527.30 1055.49,524.00 1051.68,524.00 1053.59,520.70 1051.68,517.40 1055.49,517.40" fill="none" stroke="#000000" stroke-width="3.32" stroke-linejoin="miter" stroke-miterlimit="10"/>
<polygon points="1157.49,483.45 1159.39,486.75 1163.20,486.75 1161.30,490.05 1163.20,493.35 1159.39,493.35 1157.49,496.65 1155.58,493.35 1151.77,493.35 1153.68,490.05 1151.77,486.75 1155.58,486.75" fill="none" stroke="#000000" stroke-width="3.32" stroke-linejoin="miter" stroke-miterlimit="10"/>
<polygon points="1257.57,475.61 1259.48,478.91 1263.29,478.91 1261.38,482.21 1263.29,485.51 1259.48,485.51 1257.57,488.81 1255.67,485.51 1251.86,485.51 1253.76,482.21 1251.86,478.91 1255.67,478.91" fill="none" stroke="#000000" stroke-width="3.32" stroke-linejoin="miter" stroke-miterlimit="10"/>
<polygon points="1357.66,460.80 1359.56,464.10 1363.37,464.10 1361.47,467.40 1363.37,470.70 1359.56,470.70 1357.66,474.00 1355.75,470.70 1351.94,470.70 1353.85,467.40 1351.94,464.10 1355.75,464.10" fill="none" stroke="#000000" stroke-width="3.32" stroke-linejoin="miter" stroke-miterlimit="10"/>
<polygon points="1457.74,444.69 1459.65,447.99 1463.46,447.99 1461.55,451.29 1463.46,454.59 1459.65,454.59 1457.74,457.89 1455.84,454.59 1452.03,454.59 1453.93,451.29 1452.03,447.99 1455.84,447.99" fill="none" stroke="#000000" stroke-width="3.32" stroke-linejoin="miter" stroke-miterlimit="10"/>
<polygon points="1557.83,429.44 1559.73,432.74 1563.54,432.74 1561.64,436.04 1563.54,439.34 1559.73,439.34 1557.83,442.64 1555.92,439.34 1552.11,439.34 1554.02,436.04 1552.11,432.74 1555.92,432.74" fill="none" stroke="#000000" stroke-width="3.32" stroke-linejoin="miter" stroke-miterlimit="10"/>
<polygon points="1657.91,429.44 1659.82,432.74 1663.63,432.74 1661.72,436.04 1663.63,439.34 1659.82,439.34 1657.91,442.64 1656.01,439.34 1652.20,439.34 1654.10,436.04 1652.20,432.74 1656.01,432.74" fill="none" stroke="#000000" stroke-width="3.32" stroke-linejoin="miter" stroke-miterlimit="10"/>
<polygon points="1758.00,407.23 1759.91,410.53 1763.72,410.53 1761.81,413.83 1763.72,417.13 1759.91,417.13 1758.00,420.43 1756.09,417.13 1752.28,417.13 1754.19,413.83 1752.28,410.53 1756.09,410.53" fill="none" stroke="#000000" stroke-width="3.32" stroke-linejoin="miter" stroke-miterlimit="10"/>
<polyline points="1057.40,497.88 1157.49,474.59 1257.57,451.72 1357.66,420.80 1457.74,412.53 1557.83,374.81 1657.91,381.39 1758.00,358.96" fill="none" stroke="#ff0000" stroke-width="3.5" stroke-linejoin="round"/>
<path d="M1051.00 497.88H1063.80M1057.40 491.48V504.28" stroke="#ff0000" stroke-width="3.5" fill="none"/>
<path d="M1151.09 474.59H1163.89M1157.49 468.19V480.99" stroke="#ff0000" stroke-width="3.5" fill="none"/>
<path d="M1251.17 451.72H1263.97M1257.57 445.32V458.12" stroke="#ff0000" stroke-width="3.5" fill="none"/>
<path d="M1351.26 420.80H1364.06M1357.66 414.40V427.20" stroke="#ff0000" stroke-width="3.5" fill="none"/>
<path d="M1451.34 412.53H1464.14M1457.74 406.13V418.93" stroke="#ff0000" stroke-width="3.5" fill="none"/>
<path d="M1551.43 374.81H1564.23M1557.83 368.41V381.21" stroke="#ff0000" stroke-width="3.5" fill="none"/>
<path d="M1651.51 381.39H1664.31M1657.91 374.99V387.79" stroke="#ff0000" stroke-width="3.5" fill="none"/>
<path d="M1751.60 358.96H1764.40M1758.00 352.56V365.36" stroke="#ff0000" stroke-width="3.5" fill="none"/>
<path d="M1101.10 90.45H1165.70" stroke="#00ff00" stroke-width="3.5"/>
<path d="M1126.90 90.45H1139.90M1133.40 83.95V96.95M1128.80 85.85L1138.00 95.05M1128.80 95.05L1138.00 85.85" stroke="#00ff00" stroke-width="3.5" fill="none"/>
<text x="1169.72" y="104.25" font-size="36.5" text-anchor="start" textLength="77.51" lengthAdjust="spacingAndGlyphs">sym2</text>
<path d="M1101.10 133.00H1165.70" stroke="#0000ff" stroke-width="3.5"/>
<polygon points="1133.40,124.40 1140.85,137.30 1125.95,137.30" fill="none" stroke="#0000ff" stroke-width="3.5" stroke-linejoin="miter"/>
<text x="1169.72" y="146.80" font-size="36.5" text-anchor="start" textLength="77.51" lengthAdjust="spacingAndGlyphs">sym3</text>
<path d="M1101.10 175.70H1165.70" stroke="#00ffff" stroke-width="3.5"/>
<circle cx="1133.40" cy="175.70" r="6.1" fill="none" stroke="#00ffff" stroke-width="3.5"/>
<text x="1169.72" y="189.50" font-size="36.5" text-anchor="start" textLength="77.51" lengthAdjust="spacingAndGlyphs">sym4</text>
<path d="M1263.90 90.45H1328.40" stroke="#ff00ff" stroke-width="3.5"/>
<polygon points="1304.40,90.45 1291.50,97.90 1291.50,83.00" fill="none" stroke="#ff00ff" stroke-width="3.5" stroke-linejoin="miter"/>
<text x="1332.52" y="104.25" font-size="36.5" text-anchor="start" textLength="77.51" lengthAdjust="spacingAndGlyphs">sym5</text>
<path d="M1263.90 133.00H1328.40" stroke="#ffff00" stroke-width="3.5"/>
<polygon points="1287.20,133.00 1300.10,125.55 1300.10,140.45" fill="none" stroke="#ffff00" stroke-width="3.5" stroke-linejoin="miter"/>
<text x="1332.52" y="146.80" font-size="36.5" text-anchor="start" textLength="77.51" lengthAdjust="spacingAndGlyphs">sym6</text>
<path d="M1263.90 175.70H1328.40" stroke="#000000" stroke-width="3.5"/>
<polygon points="1295.80,169.10 1297.71,172.40 1301.52,172.40 1299.61,175.70 1301.52,179.00 1297.71,179.00 1295.80,182.30 1293.89,179.00 1290.08,179.00 1291.99,175.70 1290.08,172.40 1293.89,172.40" fill="none" stroke="#000000" stroke-width="3.32" stroke-linejoin="miter" stroke-miterlimit="10"/>
<text x="1332.52" y="189.50" font-size="36.5" text-anchor="start" textLength="77.51" lengthAdjust="spacingAndGlyphs">sym7</text>
<path d="M1427.20 90.45H1491.00" stroke="#ff0000" stroke-width="3.5"/>
<path d="M1452.60 90.45H1465.40M1459.00 84.05V96.85" stroke="#ff0000" stroke-width="3.5" fill="none"/>
<text x="1496.32" y="104.25" font-size="36.5" text-anchor="start" textLength="77.51" lengthAdjust="spacingAndGlyphs">sym8</text>
<text x="1114.42" y="737.90" font-size="44" text-anchor="start" textLength="546.32" lengthAdjust="spacingAndGlyphs" stroke="#000" stroke-width="0.55">(b) The symN wavelet system</text>
<path d="M580.80 1355.50V1346.50M580.80 832.50V841.50M680.90 1355.50V1346.50M680.90 832.50V841.50M781.00 1355.50V1346.50M781.00 832.50V841.50M881.10 1355.50V1346.50M881.10 832.50V841.50M981.20 1355.50V1346.50M981.20 832.50V841.50M1081.30 1355.50V1346.50M1081.30 832.50V841.50M1181.40 1355.50V1346.50M1181.40 832.50V841.50M1281.50 1355.50V1346.50M1281.50 832.50V841.50M580.80 1355.50H589.80M1281.50 1355.50H1272.50M580.80 1280.79H589.80M1281.50 1280.79H1272.50M580.80 1206.07H589.80M1281.50 1206.07H1272.50M580.80 1131.36H589.80M1281.50 1131.36H1272.50M580.80 1056.64H589.80M1281.50 1056.64H1272.50M580.80 981.93H589.80M1281.50 981.93H1272.50M580.80 907.21H589.80M1281.50 907.21H1272.50M580.80 832.50H589.80M1281.50 832.50H1272.50" stroke="#262626" stroke-width="4.5" fill="none"/>
<rect x="580.80" y="832.50" width="700.70" height="523.00" fill="none" stroke="#262626" stroke-width="4.5"/>
<text x="580.20" y="1401.40" font-size="37.5" text-anchor="middle" textLength="17.81" lengthAdjust="spacingAndGlyphs">1</text>
<text x="680.30" y="1401.40" font-size="37.5" text-anchor="middle" textLength="17.81" lengthAdjust="spacingAndGlyphs">2</text>
<text x="780.40" y="1401.40" font-size="37.5" text-anchor="middle" textLength="17.81" lengthAdjust="spacingAndGlyphs">3</text>
<text x="880.50" y="1401.40" font-size="37.5" text-anchor="middle" textLength="17.81" lengthAdjust="spacingAndGlyphs">4</text>
<text x="980.60" y="1401.40" font-size="37.5" text-anchor="middle" textLength="17.81" lengthAdjust="spacingAndGlyphs">5</text>
<text x="1080.70" y="1401.40" font-size="37.5" text-anchor="middle" textLength="17.81" lengthAdjust="spacingAndGlyphs">6</text>
<text x="1180.80" y="1401.40" font-size="37.5" text-anchor="middle" textLength="17.81" lengthAdjust="spacingAndGlyphs">7</text>
<text x="1280.90" y="1401.40" font-size="37.5" text-anchor="middle" textLength="17.81" lengthAdjust="spacingAndGlyphs">8</text>
<text x="568.20" y="1368.90" font-size="37.5" text-anchor="end" textLength="17.81" lengthAdjust="spacingAndGlyphs">0</text>
<text x="568.20" y="1294.19" font-size="37.5" text-anchor="end" textLength="44.53" lengthAdjust="spacingAndGlyphs">0.2</text>
<text x="568.20" y="1219.47" font-size="37.5" text-anchor="end" textLength="44.53" lengthAdjust="spacingAndGlyphs">0.4</text>
<text x="568.20" y="1144.76" font-size="37.5" text-anchor="end" textLength="44.53" lengthAdjust="spacingAndGlyphs">0.6</text>
<text x="568.20" y="1070.04" font-size="37.5" text-anchor="end" textLength="44.53" lengthAdjust="spacingAndGlyphs">0.8</text>
<text x="568.20" y="995.33" font-size="37.5" text-anchor="end" textLength="17.81" lengthAdjust="spacingAndGlyphs">1</text>
<text x="568.20" y="920.61" font-size="37.5" text-anchor="end" textLength="44.53" lengthAdjust="spacingAndGlyphs">1.2</text>
<text x="568.20" y="845.90" font-size="37.5" text-anchor="end" textLength="44.53" lengthAdjust="spacingAndGlyphs">1.4</text>
<text x="582.79" y="831.24" font-size="43.5" text-anchor="start">×</text>
<text x="610.81" y="825.20" font-size="37.5" text-anchor="start" textLength="36.56" lengthAdjust="spacingAndGlyphs">10</text>
<text x="647.40" y="808.40" font-size="30" text-anchor="start">-</text>
<text x="657.57" y="807.90" font-size="30" text-anchor="start" textLength="27.00" lengthAdjust="spacingAndGlyphs">13</text>
<text x="929.45" y="1449.30" font-size="41" text-anchor="middle" textLength="344.09" lengthAdjust="spacingAndGlyphs" stroke="#000" stroke-width="0.55">Decomposition times</text>
<g transform="translate(498.10,1094.00) rotate(-90)"><text x="0.00" y="0.00" font-size="41.3" text-anchor="middle" textLength="406.94" lengthAdjust="spacingAndGlyphs" stroke="#000" stroke-width="0.55">Reconstruction error/mm</text></g>
<polyline points="580.80,1315.30 680.90,1288.78 781.00,1255.38 881.10,1222.66 981.20,1222.70 1081.30,1202.34 1181.40,1189.26 1281.50,1162.74" fill="none" stroke="#ff00ff" stroke-width="3.5" stroke-linejoin="round"/>
<path d="M574.30 1315.30H587.30M580.80 1308.80V1321.80M576.20 1310.71L585.40 1319.90M576.20 1319.90L585.40 1310.71" stroke="#ff00ff" stroke-width="3.5" fill="none"/>
<path d="M674.40 1288.78H687.40M680.90 1282.28V1295.28M676.30 1284.18L685.50 1293.38M676.30 1293.38L685.50 1284.18" stroke="#ff00ff" stroke-width="3.5" fill="none"/>
<path d="M774.50 1255.38H787.50M781.00 1248.88V1261.88M776.40 1250.79L785.60 1259.98M776.40 1259.98L785.60 1250.79" stroke="#ff00ff" stroke-width="3.5" fill="none"/>
<path d="M874.60 1222.66H887.60M881.10 1216.16V1229.16M876.50 1218.06L885.70 1227.25M876.50 1227.25L885.70 1218.06" stroke="#ff00ff" stroke-width="3.5" fill="none"/>
<path d="M974.70 1222.70H987.70M981.20 1216.20V1229.20M976.60 1218.10L985.80 1227.29M976.60 1227.29L985.80 1218.10" stroke="#ff00ff" stroke-width="3.5" fill="none"/>
<path d="M1074.80 1202.34H1087.80M1081.30 1195.84V1208.84M1076.70 1197.74L1085.90 1206.93M1076.70 1206.93L1085.90 1197.74" stroke="#ff00ff" stroke-width="3.5" fill="none"/>
<path d="M1174.90 1189.26H1187.90M1181.40 1182.76V1195.76M1176.80 1184.66L1186.00 1193.86M1176.80 1193.86L1186.00 1184.66" stroke="#ff00ff" stroke-width="3.5" fill="none"/>
<path d="M1275.00 1162.74H1288.00M1281.50 1156.24V1169.24M1276.90 1158.14L1286.10 1167.33M1276.90 1167.33L1286.10 1158.14" stroke="#ff00ff" stroke-width="3.5" fill="none"/>
<polyline points="580.80,1281.53 680.90,1220.27 781.00,1180.78 881.10,1149.10 981.20,1116.79 1081.30,1074.20 1181.40,1043.31 1281.50,1017.31" fill="none" stroke="#00ff00" stroke-width="3.5" stroke-linejoin="round"/>
<polygon points="580.80,1272.93 588.25,1285.83 573.35,1285.83" fill="none" stroke="#00ff00" stroke-width="3.5" stroke-linejoin="miter"/>
<polygon points="680.90,1211.67 688.35,1224.57 673.45,1224.57" fill="none" stroke="#00ff00" stroke-width="3.5" stroke-linejoin="miter"/>
<polygon points="781.00,1172.18 788.45,1185.08 773.55,1185.08" fill="none" stroke="#00ff00" stroke-width="3.5" stroke-linejoin="miter"/>
<polygon points="881.10,1140.50 888.55,1153.40 873.65,1153.40" fill="none" stroke="#00ff00" stroke-width="3.5" stroke-linejoin="miter"/>
<polygon points="981.20,1108.19 988.65,1121.09 973.75,1121.09" fill="none" stroke="#00ff00" stroke-width="3.5" stroke-linejoin="miter"/>
<polygon points="1081.30,1065.60 1088.75,1078.50 1073.85,1078.50" fill="none" stroke="#00ff00" stroke-width="3.5" stroke-linejoin="miter"/>
<polygon points="1181.40,1034.71 1188.85,1047.61 1173.95,1047.61" fill="none" stroke="#00ff00" stroke-width="3.5" stroke-linejoin="miter"/>
<polygon points="1281.50,1008.71 1288.95,1021.61 1274.05,1021.61" fill="none" stroke="#00ff00" stroke-width="3.5" stroke-linejoin="miter"/>
<polyline points="580.80,1281.53 680.90,1228.86 781.00,1196.21 881.10,1156.01 981.20,1102.78 1081.30,1083.69 1181.40,1036.84 1281.50,1003.71" fill="none" stroke="#0000ff" stroke-width="3.5" stroke-linejoin="round"/>
<circle cx="580.80" cy="1281.53" r="6.1" fill="none" stroke="#0000ff" stroke-width="3.5"/>
<circle cx="680.90" cy="1228.86" r="6.1" fill="none" stroke="#0000ff" stroke-width="3.5"/>
<circle cx="781.00" cy="1196.21" r="6.1" fill="none" stroke="#0000ff" stroke-width="3.5"/>
<circle cx="881.10" cy="1156.01" r="6.1" fill="none" stroke="#0000ff" stroke-width="3.5"/>
<circle cx="981.20" cy="1102.78" r="6.1" fill="none" stroke="#0000ff" stroke-width="3.5"/>
<circle cx="1081.30" cy="1083.69" r="6.1" fill="none" stroke="#0000ff" stroke-width="3.5"/>
<circle cx="1181.40" cy="1036.84" r="6.1" fill="none" stroke="#0000ff" stroke-width="3.5"/>
<circle cx="1281.50" cy="1003.71" r="6.1" fill="none" stroke="#0000ff" stroke-width="3.5"/>
<polyline points="580.80,1215.78 680.90,1176.19 781.00,1102.78 881.10,1043.08 981.20,996.39 1081.30,957.27 1181.40,890.78 1281.50,864.81" fill="none" stroke="#00ffff" stroke-width="3.5" stroke-linejoin="round"/>
<polygon points="589.40,1215.78 576.50,1223.23 576.50,1208.34" fill="none" stroke="#00ffff" stroke-width="3.5" stroke-linejoin="miter"/>
<polygon points="689.50,1176.19 676.60,1183.63 676.60,1168.74" fill="none" stroke="#00ffff" stroke-width="3.5" stroke-linejoin="miter"/>
<polygon points="789.60,1102.78 776.70,1110.23 776.70,1095.33" fill="none" stroke="#00ffff" stroke-width="3.5" stroke-linejoin="miter"/>
<polygon points="889.70,1043.08 876.80,1050.53 876.80,1035.63" fill="none" stroke="#00ffff" stroke-width="3.5" stroke-linejoin="miter"/>
<polygon points="989.80,996.39 976.90,1003.83 976.90,988.94" fill="none" stroke="#00ffff" stroke-width="3.5" stroke-linejoin="miter"/>
<polygon points="1089.90,957.27 1077.00,964.72 1077.00,949.83" fill="none" stroke="#00ffff" stroke-width="3.5" stroke-linejoin="miter"/>
<polygon points="1190.00,890.78 1177.10,898.22 1177.10,883.33" fill="none" stroke="#00ffff" stroke-width="3.5" stroke-linejoin="miter"/>
<polygon points="1290.10,864.81 1277.20,872.26 1277.20,857.37" fill="none" stroke="#00ffff" stroke-width="3.5" stroke-linejoin="miter"/>
<path d="M627.70 895.00H692.60" stroke="#ff00ff" stroke-width="3.5"/>
<path d="M653.80 895.00H666.80M660.30 888.50V901.50M655.70 890.40L664.90 899.60M655.70 899.60L664.90 890.40" stroke="#ff00ff" stroke-width="3.5" fill="none"/>
<text x="697.12" y="908.80" font-size="36.5" text-anchor="start" textLength="73.50" lengthAdjust="spacingAndGlyphs">coif1</text>
<path d="M627.70 937.60H692.60" stroke="#00ff00" stroke-width="3.5"/>
<polygon points="660.30,929.00 667.75,941.90 652.85,941.90" fill="none" stroke="#00ff00" stroke-width="3.5" stroke-linejoin="miter"/>
<text x="697.12" y="951.40" font-size="36.5" text-anchor="start" textLength="73.50" lengthAdjust="spacingAndGlyphs">coif2</text>
<path d="M785.80 895.00H850.50" stroke="#0000ff" stroke-width="3.5"/>
<circle cx="818.40" cy="895.00" r="6.1" fill="none" stroke="#0000ff" stroke-width="3.5"/>
<text x="855.12" y="908.80" font-size="36.5" text-anchor="start" textLength="73.50" lengthAdjust="spacingAndGlyphs">coif3</text>
<path d="M785.80 937.60H850.50" stroke="#00ffff" stroke-width="3.5"/>
<polygon points="827.00,937.60 814.10,945.05 814.10,930.15" fill="none" stroke="#00ffff" stroke-width="3.5" stroke-linejoin="miter"/>
<text x="855.12" y="951.40" font-size="36.5" text-anchor="start" textLength="73.50" lengthAdjust="spacingAndGlyphs">coif4</text>
<text x="645.02" y="1525.00" font-size="44" text-anchor="start" textLength="538.26" lengthAdjust="spacingAndGlyphs" stroke="#000" stroke-width="0.55">(c) The coifN wavelet system</text>
</svg>
</body></html>
